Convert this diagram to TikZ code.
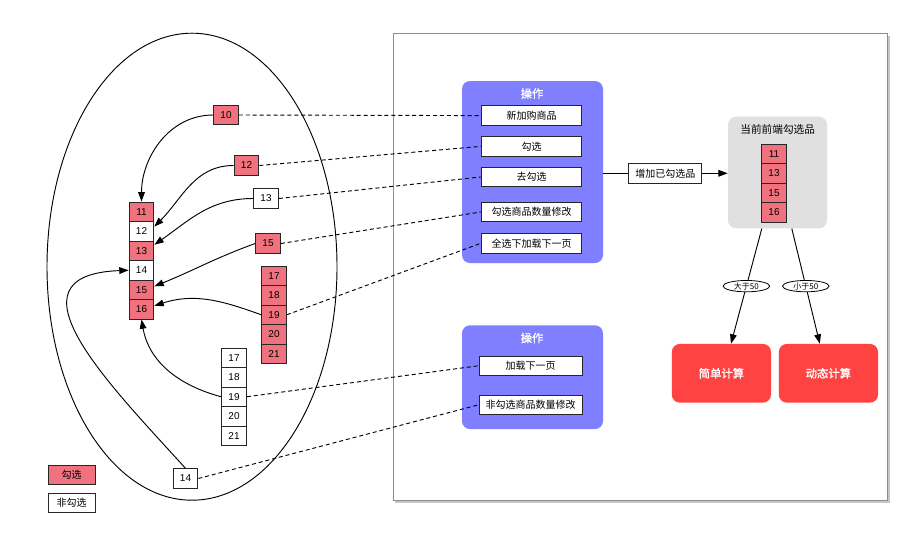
\documentclass[tikz,border=0pt]{standalone}
\usepackage{fontspec}
\setmainfont{Liberation Sans}
\newfontfamily\cjk{Noto Sans CJK SC}
\newfontfamily\cjkb[FakeBold=1.5]{Noto Sans CJK SC}
\usetikzlibrary{arrows.meta,calc,shapes.geometric}
\definecolor{cellred}{HTML}{F0727F}
\definecolor{oppurple}{HTML}{7F7FFF}
\definecolor{boxgray}{HTML}{E0E0E0}
\definecolor{calcred}{HTML}{FF4242}
\begin{document}
\begin{tikzpicture}[x=0.75pt,y=-0.75pt,
 cellbase/.style={draw=black!85,line width=0.7pt,minimum width=18.6pt,minimum height=14.6pt,inner sep=0pt,font=\fontsize{7.5}{8}\selectfont},
 rc/.style={cellbase,fill=cellred},
 wc/.style={cellbase,fill=white},
 opitem/.style={draw=black!85,fill=white,line width=0.7pt,minimum width=75.5pt,minimum height=14.6pt,inner sep=0pt,font=\cjk\fontsize{7.5}{8}\selectfont},
 opbox/.style={fill=oppurple,rounded corners=6pt,minimum width=105.75pt,inner sep=0pt},
 optitle/.style={text=white,font=\cjkb\fontsize{8.5}{9}\selectfont},
 arr/.style={-{Triangle[length=7pt,width=5pt]},line width=0.7pt},
 dsh/.style={line width=0.7pt,dash pattern=on 3pt off 2.2pt},
 elab/.style={ellipse,draw,fill=white,line width=0.6pt,minimum width=35pt,minimum height=8.5pt,inner sep=0pt,font=\cjk\fontsize{6}{6.5}\selectfont},
 calcbox/.style={fill=calcred,rounded corners=6pt,minimum width=74.4pt,minimum height=44pt,inner sep=0pt,text=white,font=\cjkb\fontsize{8.5}{9}\selectfont},
 legbox/.style={draw=black!85,line width=0.7pt,minimum width=35.3pt,minimum height=14.6pt,inner sep=0pt,font=\cjk\fontsize{7.5}{8}\selectfont}
]
\useasboundingbox (0,0) rectangle (920,539);
% big frame
\fill[black!22] (395,35.5) rectangle (889.5,503);
\draw[black!45,fill=white,line width=0.7pt] (393,33) rectangle (887,500.5);
% ellipse
\draw[line width=0.7pt] (192,266.7) ellipse [x radius=145, y radius=233.5];

% left stack
\node[rc] (c11) at (141.5,211.75) {11};
\node[wc] (c12) at (141.5,231.25) {12};
\node[rc] (c13) at (141.5,250.75) {13};
\node[wc] (c14) at (141.5,270.25) {14};
\node[rc] (c15) at (141.5,289.75) {15};
\node[rc] (c16) at (141.5,309.25) {16};
% single items
\node[rc] (n10) at (226,115) {10};
\node[rc] (n12) at (246.5,165.5) {12};
\node[wc] (n13) at (266,198.5) {13};
\node[rc] (n15) at (268,243.5) {15};
\node[wc] (n14) at (185.5,478.5) {14};
% red stack
\node[rc] (r17) at (274,275.75) {17};
\node[rc] (r18) at (274,295.25) {18};
\node[rc] (r19) at (274,314.75) {19};
\node[rc] (r20) at (274,334.25) {20};
\node[rc] (r21) at (274,353.75) {21};
% white stack
\node[wc] (w17) at (234,357.75) {17};
\node[wc] (w18) at (234,377.25) {18};
\node[wc] (w19) at (234,396.75) {19};
\node[wc] (w20) at (234,416.25) {20};
\node[wc] (w21) at (234,435.75) {21};
% legend
\node[legbox,fill=cellred] (leg1) at (71.5,475) {勾选};
\node[legbox,fill=white] (leg2) at (71.5,503) {非勾选};

% operation boxes
\node[opbox,minimum height=136.5pt] (op1) at (532.5,172) {};
\node[optitle] (t1) at (532,93.5) {操作};
\node[opitem] (i1) at (531.5,115.6) {新加购商品};
\node[opitem] (i2) at (531.5,146.4) {勾选};
\node[opitem] (i3) at (531.5,177) {去勾选};
\node[opitem] (i4) at (531.5,212) {勾选商品数量修改};
\node[opitem] (i5) at (531.5,243.3) {全选下加载下一页};

\node[opbox,minimum height=77.8pt] (op2) at (532.5,377.2) {};
\node[optitle] (t2) at (532,338) {操作};
\node[opitem,minimum width=77pt] (j1) at (530.7,365.7) {加载下一页};
\node[opitem,minimum width=77pt] (j2) at (530.7,404.7) {非勾选商品数量修改};

% right part
\node[draw=black!85,fill=white,line width=0.7pt,minimum width=54.75pt,minimum height=15pt,inner sep=0pt,font=\cjk\fontsize{7.5}{8}\selectfont] (lab) at (665.3,173.3) {增加已勾选品};
\node[fill=boxgray,rounded corners=6pt,minimum width=74.25pt,minimum height=83.7pt,inner sep=0pt] (gray) at (777.5,172.5) {};
\node[font=\cjk\fontsize{8}{9}\selectfont] (gt) at (777.7,129) {当前前端勾选品};
\node[rc] (g11) at (774,153.75) {11};
\node[rc] (g13) at (774,173.25) {13};
\node[rc] (g15) at (774,192.75) {15};
\node[rc] (g16) at (774,212.25) {16};
\node[calcbox] (rb1) at (721.4,373.3) {简单计算};
\node[calcbox] (rb2) at (828.4,373.3) {动态计算};

% connectors right
\draw[line width=0.7pt] (op1.east |- lab.west) -- (lab.west);
\draw[arr] (lab.east) -- (lab.east -| gray.west);
\draw[arr] ($(gray.south)+(-15.7,0)$) -- node[elab] {大于50} ($(rb1.north)+(9.6,0)$);
\draw[arr] ($(gray.south)+(14.3,0)$) -- node[elab] {小于50} ($(rb2.north)+(-8.6,0)$);

% solid arrows left
\draw[arr] (n10.west) to[out=180,in=90] (c11.north);
\draw[arr] (n12.west) to[out=180,in=45] (c12.20);
\draw[arr] (n13.west) to[out=180,in=35] (c13.25);
\draw[arr] (n15.west) to[out=200,in=22] (c15.15);
\draw[arr] (r19.west) to[out=160,in=18] (c16.15);
\draw[arr] (w19.west) to[out=165,in=-80] (c16.south);
\draw[arr] (n14.north) .. controls (110,385) and (0,275) .. (c14.west);

% dashed links
\draw[dsh] (n10.east) -- (i1.west);
\draw[dsh] (n12.east) -- (i2.west);
\draw[dsh] (n13.east) -- (i3.west);
\draw[dsh] (n15.east) -- (i4.west);
\draw[dsh] (r19.east) -- (i5.west);
\draw[dsh] (w19.east) -- (j1.west);
\draw[dsh] (n14.east) -- (j2.west);
\end{tikzpicture}
\end{document}
